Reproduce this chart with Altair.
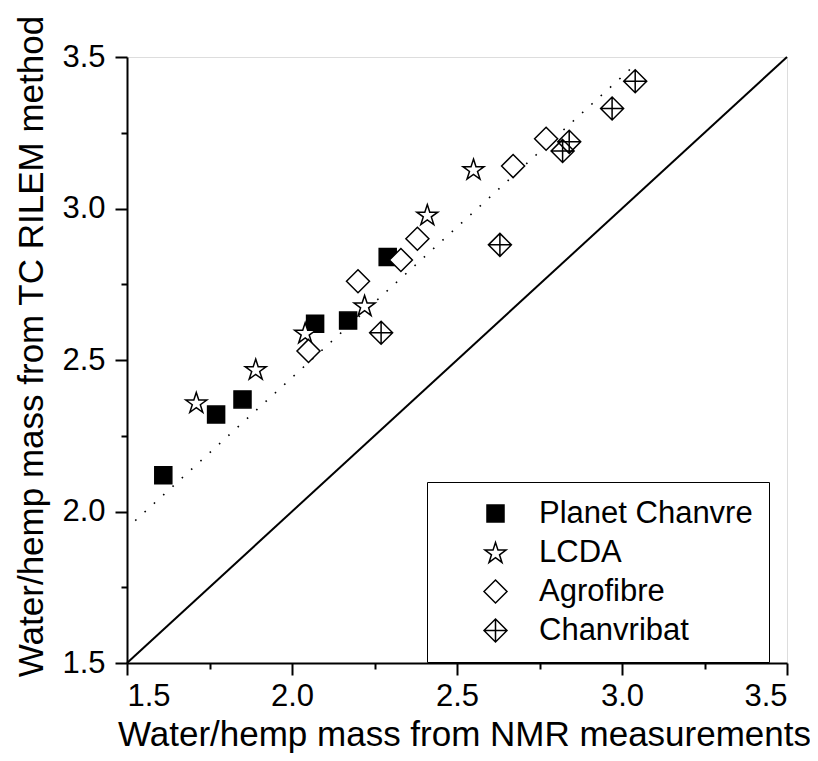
import math
import altair as alt
import pandas as pd

# ---- data ----
series_names = ["Planet Chanvre", "LCDA", "Agrofibre", "Chanvribat"]

pc_x = [1.61, 1.77, 1.85, 2.07, 2.17, 2.29]
pc_y = [2.12, 2.32, 2.37, 2.62, 2.63, 2.84]
lcda_x = [1.71, 1.89, 2.04, 2.22, 2.41, 2.55]
lcda_y = [2.36, 2.47, 2.59, 2.68, 2.98, 3.13]
agro_x = [2.05, 2.20, 2.33, 2.38, 2.67, 2.77]
agro_y = [2.53, 2.76, 2.83, 2.90, 3.14, 3.23]
chb_x = [2.27, 2.63, 2.82, 2.84, 2.97, 3.04]
chb_y = [2.59, 2.88, 3.19, 3.22, 3.33, 3.42]

fit_x = [1.525, 3.045]
fit_y = [1.97, 3.48]
diag_vals = [1.5, 3.5]

tick_values = [1.5, 1.75, 2.0, 2.25, 2.5, 2.75, 3.0, 3.25, 3.5]

# ---- tables ----
rows = []
for name, xs_, ys_ in zip(series_names, [pc_x, lcda_x, agro_x, chb_x], [pc_y, lcda_y, agro_y, chb_y]):
    for a, b in zip(xs_, ys_):
        rows.append({"series": name, "nmr": a, "tc": b})
df = pd.DataFrame(rows)
fit_df = pd.DataFrame({"nmr": fit_x, "tc": fit_y})
diag_df = pd.DataFrame({"nmr": diag_vals, "tc": diag_vals})

# ---- symbol shapes (custom paths in [-1,1]) ----
sq = 0.74
square_path = f"M{-sq},{-sq}H{sq}V{sq}H{-sq}Z"
pts = []
R, r = 0.96, 0.96 * 0.382
for k in range(10):
    ang = math.radians(-90 + 36 * k)
    rad = R if k % 2 == 0 else r
    pts.append((rad * math.cos(ang), rad * math.sin(ang) + 0.09))
star_path = "M" + "L".join(f"{px:.3f},{py:.3f}" for px, py in pts) + "Z"
diamond_path = "M0,-1L1,0L0,1L-1,0Z"
cross_diamond_path = "M0,-1L1,0L0,1L-1,0Z M0,-1L0,1 M-1,0L1,0"

shape_range = [square_path, star_path, diamond_path, cross_diamond_path]
fill_range = ["black", "white", "white", "transparent"]
stroke_range = ["black", "black", "black", "black"]

FONT = "Liberation Sans"

def make_axis(label_pad, title_pad, **kw):
    return alt.Axis(
        values=tick_values,
        labelExpr="datum.value % 0.5 == 0 ? format(datum.value, '.1f') : ''",
        tickSize={"condition": {"test": "datum.value % 0.5 == 0", "value": 12}, "value": 6},
        tickWidth=2,
        tickColor="black",
        domainColor="black",
        domainWidth=2,
        grid=False,
        labelOverlap=False,
        labelFont=FONT,
        labelFontSize=31,
        labelColor="black",
        labelPadding=label_pad,
        titleFont=FONT,
        titleFontSize=35,
        titleFontWeight="normal",
        titleColor="black",
        titlePadding=title_pad,
        **kw,
    )

xs = alt.Scale(domain=[1.5, 3.5], nice=False, zero=False)
ys = alt.Scale(domain=[1.5, 3.5], nice=False, zero=False)

x_axis = make_axis(6, 6, titleX=337)
y_axis = make_axis(10, 12, titleY=289)

x_enc = alt.X("nmr:Q", scale=xs, axis=x_axis, title="Water/hemp mass from NMR measurements")
y_enc = alt.Y("tc:Q", scale=ys, axis=y_axis, title="Water/hemp mass from TC RILEM method")

legend = alt.Legend(
    title=None,
    orient="none",
    legendX=300,
    legendY=425,
    direction="vertical",
    padding=16,
    symbolOffset=37,
    labelOffset=28,
    rowPadding=7,
    symbolSize=529,
    symbolStrokeWidth=1.5,
    labelFont=FONT,
    labelFontSize=31,
    labelColor="black",
    labelLimit=400,
    strokeColor="black",
    fillColor="white",
)

diag = alt.Chart(diag_df).mark_line(color="black", strokeWidth=2).encode(x=x_enc, y=y_enc)
fit = alt.Chart(fit_df).mark_line(
    color="black", strokeWidth=1.6, strokeDash=[1.6, 11], strokeCap="butt"
).encode(x=x_enc, y=y_enc)
points = alt.Chart(df).mark_point(
    filled=True, strokeWidth=1.5, opacity=1, size=529
).encode(
    x=x_enc,
    y=y_enc,
    shape=alt.Shape("series:N", scale=alt.Scale(domain=series_names, range=shape_range), legend=legend),
    fill=alt.Fill("series:N", scale=alt.Scale(domain=series_names, range=fill_range), legend=legend),
    stroke=alt.Stroke("series:N", scale=alt.Scale(domain=series_names, range=stroke_range), legend=legend),
)

chart = alt.layer(diag, fit, points).properties(
    width=660,
    height=606,
    autosize=alt.AutoSizeParams(type="none"),
    padding={"left": 119, "top": 49, "right": 23, "bottom": 95},
).configure_view(stroke="black", strokeWidth=2).configure(font=FONT, background="white")

chart.save("out.html", embed_options={"renderer": "svg", "actions": False})
